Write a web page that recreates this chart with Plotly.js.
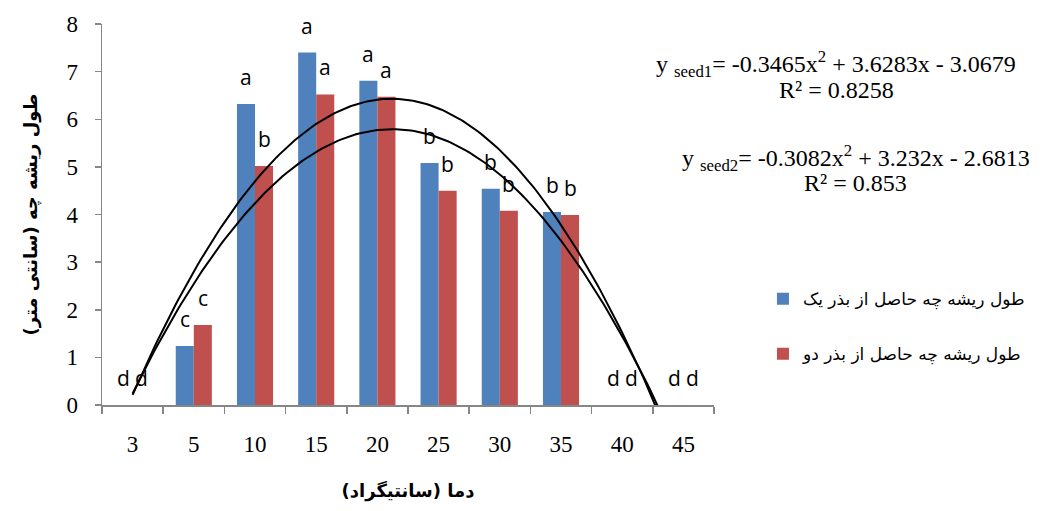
<!DOCTYPE html>
<html>
<head>
<meta charset="utf-8">
<script src="https://cdn.plot.ly/plotly-3.0.1.min.js"></script>
<style>html,body{margin:0;padding:0;background:#fff;}#chart{width:1046px;height:511px;}</style>
</head>
<body>
<div id="chart"></div>
<script>
// Data
const categories = ['3', '5', '10', '15', '20', '25', '30', '35', '40', '45'];
const seed1 = [0, 1.24, 6.32, 7.40, 6.81, 5.08, 4.54, 4.05, 0, 0];
const seed2 = [0, 1.68, 5.02, 6.52, 6.47, 4.50, 4.08, 3.99, 0, 0];
const letters1 = ['d', 'c', 'a', 'a', 'a', 'b', 'b', 'b', 'd', 'd'];
const letters2 = ['d', 'c', 'b', 'a', 'a', 'b', 'b', 'b', 'd', 'd'];
const seriesNames = ['طول ریشه چه حاصل از بذر یک', 'طول ریشه چه حاصل از بذر دو'];
const coef1 = [-0.3465, 3.6283, -3.0679]; // a, b, c
const coef2 = [-0.3082, 3.232, -2.6813];
const r2 = ['0.8258', '0.853'];

const blue = '#4F81BD', red = '#C0504D';

function trend(coef) {
  const xs = [], ys = [];
  for (let i = 0; i <= 180; i++) {
    const x = 1 + i * 0.05;
    xs.push(x);
    ys.push(coef[0] * x * x + coef[1] * x + coef[2]);
  }
  return {xs, ys};
}
const t1 = trend(coef1), t2 = trend(coef2);

const traces = [
  {type: 'bar', x: categories, y: seed1, name: seriesNames[0], marker: {color: blue}, legendgroup: 'g1'},
  {type: 'bar', x: categories, y: seed2, name: seriesNames[1], marker: {color: red}, legendgroup: 'g2'},
  {type: 'scatter', mode: 'lines', x: t1.xs, y: t1.ys, xaxis: 'x2', line: {color: '#000', width: 2}, showlegend: false, hoverinfo: 'skip'},
  {type: 'scatter', mode: 'lines', x: t2.xs, y: t2.ys, xaxis: 'x2', line: {color: '#000', width: 2}, showlegend: false, hoverinfo: 'skip'}
];

const annotations = [];
const letterFont = {family: 'Open Sans, Liberation Sans, sans-serif', size: 21, color: '#000'};
categories.forEach((c, i) => {
  annotations.push({x: i, y: seed1[i], xref: 'x', yref: 'y', text: letters1[i], showarrow: false,
    xshift: -9, yshift: 11, yanchor: 'bottom', font: letterFont});
  annotations.push({x: i, y: seed2[i], xref: 'x', yref: 'y', text: letters2[i], showarrow: false,
    xshift: 9, yshift: 11, yanchor: 'bottom', font: letterFont});
});

function fmt(v) { return (v < 0 ? ' - ' : ' + ') + Math.abs(v); }
const eqFont = {family: 'Liberation Serif, Times New Roman, serif', size: 24, color: '#000'};
annotations.push({xref: 'paper', yref: 'paper', x: 1.2, y: 0.895, xanchor: 'center', yanchor: 'middle', showarrow: false, font: eqFont,
  text: 'y <sub>seed1</sub>= ' + coef1[0] + 'x<sup>2</sup>' + fmt(coef1[1]) + 'x' + fmt(coef1[2])});
annotations.push({xref: 'paper', yref: 'paper', x: 1.2, y: 0.827, xanchor: 'center', yanchor: 'middle', showarrow: false, font: eqFont,
  text: 'R² = ' + r2[0]});
annotations.push({xref: 'paper', yref: 'paper', x: 1.232, y: 0.648, xanchor: 'center', yanchor: 'middle', showarrow: false, font: eqFont,
  text: 'y <sub>seed2</sub>= ' + coef2[0] + 'x<sup>2</sup>' + fmt(coef2[1]) + 'x' + fmt(coef2[2])});
annotations.push({xref: 'paper', yref: 'paper', x: 1.232, y: 0.583, xanchor: 'center', yanchor: 'middle', showarrow: false, font: eqFont,
  text: 'R² = ' + r2[1]});

const axisColor = '#868686';
const tickFont = {family: 'Liberation Serif, Times New Roman, serif', size: 23, color: '#000'};
const layout = {
  width: 1046, height: 511,
  margin: {l: 102, r: 332, t: 24, b: 106},
  paper_bgcolor: '#fff', plot_bgcolor: '#fff',
  barmode: 'group', bargap: 0.41, bargroupgap: 0,
  showlegend: true,
  legend: {x: 1.08, y: 0.325, xanchor: 'left', yanchor: 'top', traceorder: 'grouped', tracegroupgap: 30,
    font: {family: 'DejaVu Sans, sans-serif', size: 17, color: '#000'}, bgcolor: 'rgba(0,0,0,0)'},
  xaxis: {type: 'category', range: [-0.5, 9.5], showgrid: false, zeroline: false,
    showline: true, linecolor: axisColor, linewidth: 1.5,
    ticks: 'outside', tickson: 'boundaries', ticklen: 7, tickcolor: axisColor, tickwidth: 1.5,
    tickfont: tickFont, ticklabelstandoff: 18,
    title: {text: 'دما (سانتیگراد)', font: {family: 'DejaVu Sans, sans-serif', size: 18, color: '#000', weight: 'bold'}, standoff: 28}},
  xaxis2: {overlaying: 'x', range: [0.5, 10.5], visible: false, showgrid: false, zeroline: false},
  yaxis: {range: [0, 8], dtick: 1, showgrid: false, zeroline: false,
    showline: true, linecolor: axisColor, linewidth: 1.5,
    ticks: 'outside', ticklen: 6, tickcolor: axisColor, tickwidth: 1.5,
    tickfont: tickFont, ticklabelstandoff: 12,
    title: {text: 'طول ریشه چه (سانتی متر)', font: {family: 'DejaVu Sans, sans-serif', size: 18, color: '#000', weight: 'bold'}, standoff: 24}},
  annotations: annotations
};

Plotly.newPlot('chart', traces, layout, {displayModeBar: false, staticPlot: true});
</script>
</body>
</html>
